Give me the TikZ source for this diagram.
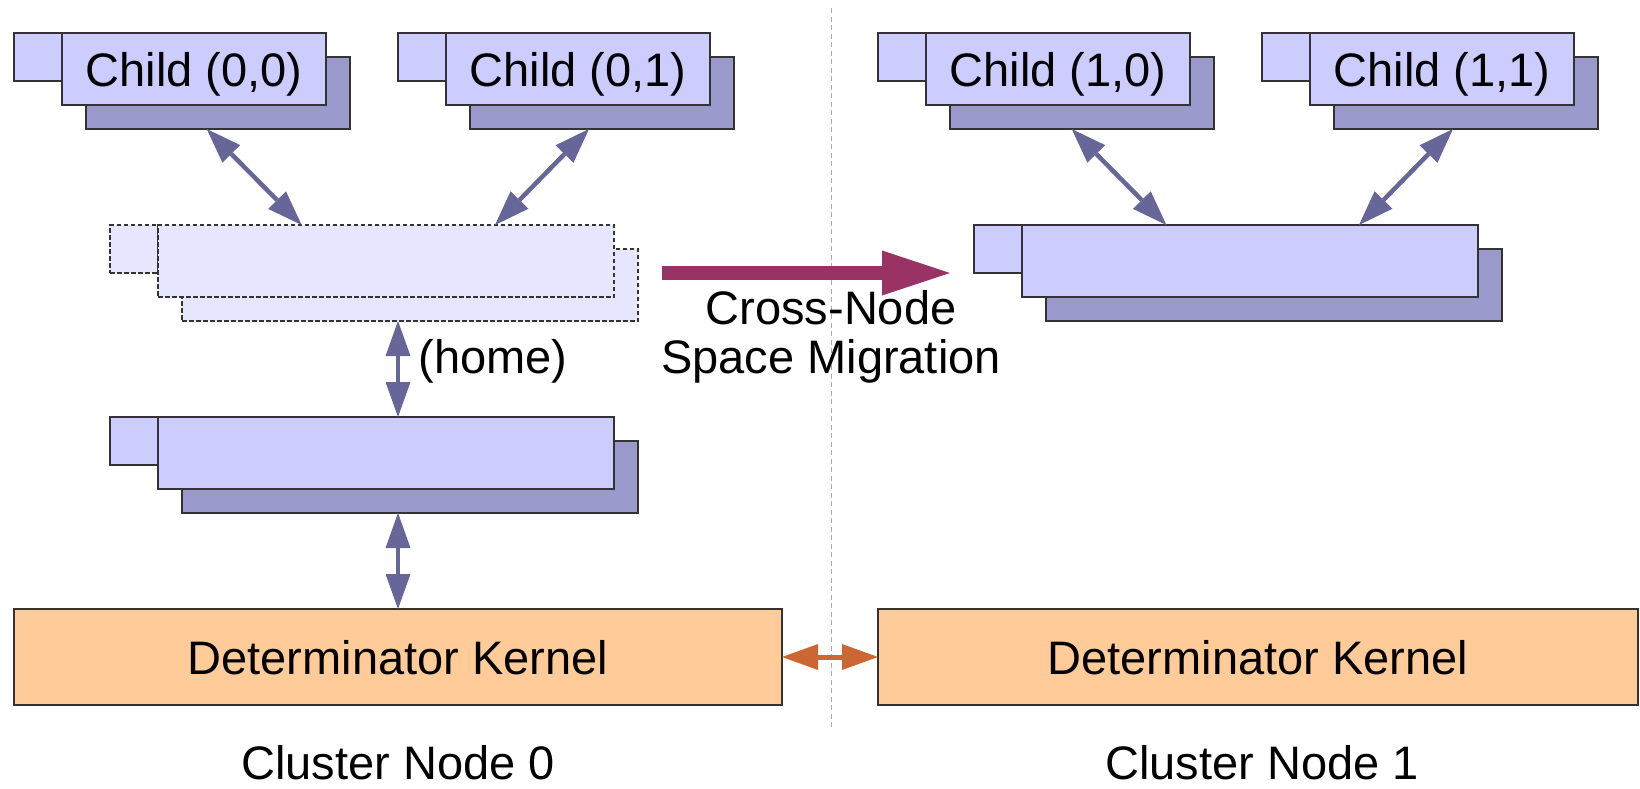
\documentclass[tikz,border=0pt]{standalone}
\usepackage{fontspec}
\setmainfont{Liberation Sans}
\usetikzlibrary{arrows.meta}
\definecolor{boxfill}{HTML}{CCCCFF}
\definecolor{shadefill}{HTML}{9999CC}
\definecolor{ghostfill}{HTML}{E6E6FF}
\definecolor{linkcol}{HTML}{666699}
\definecolor{migcol}{HTML}{993366}
\definecolor{kernfill}{HTML}{FFCC99}
\definecolor{kernlink}{HTML}{CC6633}
\definecolor{edgecol}{HTML}{333333}
\definecolor{divcol}{HTML}{AAAAAA}
\begin{document}
\begin{tikzpicture}[x=1pt,y=-1pt,
  every node/.style={font=\fontsize{47}{50}\selectfont, inner sep=0pt, outer sep=0pt},
  boxbase/.style={draw=edgecol, line width=1.3pt, rectangle, anchor=north west, text height=34pt, text depth=0pt},
  mainbox/.style={boxbase, fill=boxfill},
  shadowbox/.style={boxbase, fill=shadefill},
  ghostbox/.style={boxbase, fill=ghostfill, dash pattern=on 4.5pt off 2.5pt, draw=edgecol},
  childsize/.style={minimum width=264pt, minimum height=72pt},
  bigsize/.style={minimum width=456pt, minimum height=72pt},
  tabsize/.style={minimum width=48pt, minimum height=48pt},
  kernbox/.style={boxbase, fill=kernfill, minimum height=96pt},
  link/.style={draw=linkcol, line width=4.5pt,
    {Triangle[length=35pt,width=25pt,line width=0pt]}-{Triangle[length=35pt,width=25pt,line width=0pt]}},
  migarrow/.style={draw=migcol, line width=14.7pt, -{Triangle[length=68pt,width=45pt,line width=0pt]}},
  kernarrow/.style={draw=kernlink, line width=5pt,
    {Triangle[length=36pt,width=26pt,line width=0pt]}-{Triangle[length=36pt,width=26pt,line width=0pt]}},
  divider/.style={draw=divcol, line width=1pt, dash pattern=on 5pt off 3.5pt},
  label/.style={anchor=base}
]
\useasboundingbox (0,0) rectangle (1640,788);

% divider
\draw[divider] (831,8) -- (831,727);

% children
\node[shadowbox, childsize] (c00s) at (86,57) {};
\node[mainbox, tabsize] (c00q) at (14,33) {};
\node[mainbox, childsize] (c00) at (62,33) {Child (0,0)};

\node[shadowbox, childsize] (c01s) at (470,57) {};
\node[mainbox, tabsize] (c01q) at (398,33) {};
\node[mainbox, childsize] (c01) at (446,33) {Child (0,1)};

\node[shadowbox, childsize] (c10s) at (950,57) {};
\node[mainbox, tabsize] (c10q) at (878,33) {};
\node[mainbox, childsize] (c10) at (926,33) {Child (1,0)};

\node[shadowbox, childsize] (c11s) at (1334,57) {};
\node[mainbox, tabsize] (c11q) at (1262,33) {};
\node[mainbox, childsize] (c11) at (1310,33) {Child (1,1)};

% home (ghost) space
\node[ghostbox, bigsize] (homes) at (182,249) {};
\node[ghostbox, tabsize] (homeq) at (110,225) {};
\node[ghostbox, bigsize] (home) at (158,225) {};

% middle space
\node[shadowbox, bigsize] (mids) at (182,441) {};
\node[mainbox, tabsize] (midq) at (110,417) {};
\node[mainbox, bigsize] (mid) at (158,417) {};

% migrated space
\node[shadowbox, bigsize] (rights) at (1046,249) {};
\node[mainbox, tabsize] (rightq) at (974,225) {};
\node[mainbox, bigsize] (right) at (1022,225) {};

% kernels
\node[kernbox, minimum width=768pt] (k0) at (14,609) {Determinator Kernel};
\node[kernbox, minimum width=760pt] (k1) at (878,609) {Determinator Kernel};

% labels
\node[label] (home lbl) at (493,373) {(home)};
\node[label] (mig1) at (831,324) {Cross-Node};
\node[label] (mig2) at (831,373) {Space Migration};
\node[label] (cn0) at (398,779) {Cluster Node 0};
\node[label] (cn1) at (1262,779) {Cluster Node 1};

% connectors
\draw[link] ([xshift=120.7pt]c00s.south west) -- ([xshift=143.7pt]home.north west);
\draw[link] ([xshift=119pt]c01s.south west) -- ([xshift=337pt]home.north west);
\draw[link] ([xshift=121.7pt]c10s.south west) -- ([xshift=144.4pt]right.north west);
\draw[link] ([xshift=119pt]c11s.south west) -- ([xshift=337pt]right.north west);
\draw[link] ([xshift=216pt]homes.south west) -- ([xshift=240pt]mid.north west);
\draw[link] ([xshift=216pt]mids.south west) -- ([xshift=384pt]k0.north west);
\draw[kernarrow] (k0.east) -- (k1.west);

\coordinate (migA) at (662,273);
\coordinate (migB) at (950,273);
\draw[migarrow] (migA) -- (migB);
\end{tikzpicture}
\end{document}
